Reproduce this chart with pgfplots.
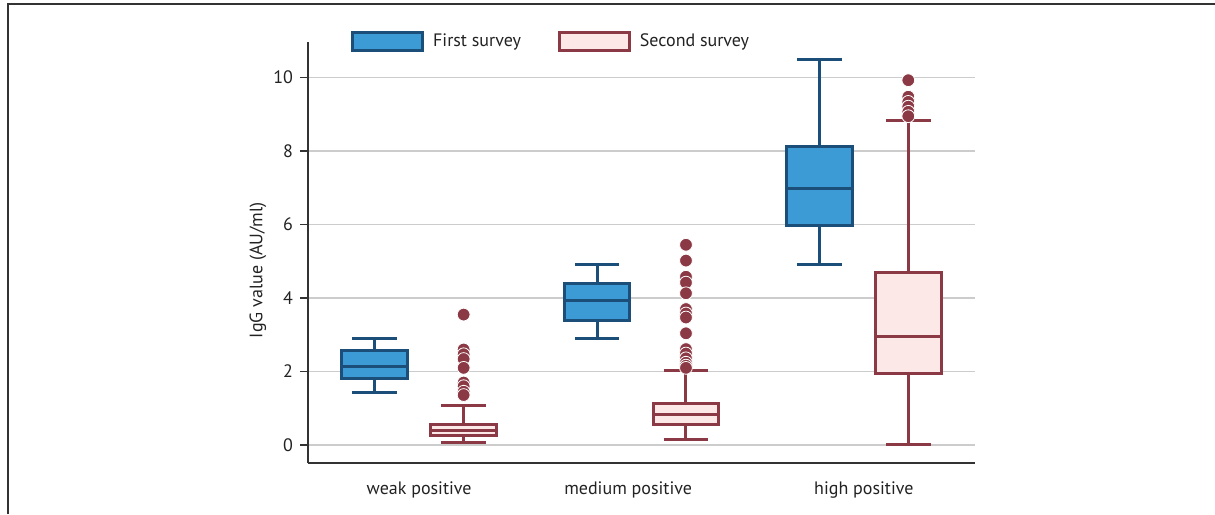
\documentclass[border=0pt]{standalone}
\usepackage{pgfplots}
\pgfplotsset{compat=1.18}
\usepgfplotslibrary{statistics}
\usepackage{fontspec}
\setmainfont{PT Sans}
\definecolor{bfill}{HTML}{3C9AD4}
\definecolor{bdraw}{HTML}{1B4F7A}
\definecolor{pfill}{HTML}{FDE8E8}
\definecolor{pdraw}{HTML}{8B3944}
\definecolor{gridc}{HTML}{CCCCCC}
\definecolor{axc}{HTML}{333333}
\definecolor{txt}{HTML}{222222}
\begin{document}
\begin{tikzpicture}
\useasboundingbox (-154pt,-25.5pt) rectangle (453.5pt,231.5pt);
\draw[axc, line width=0.7pt] (-150pt,-25.5pt) -- (-150pt,229.5pt) -- (453.5pt,229.5pt);
\begin{axis}[
  at={(0pt,0pt)}, anchor=south west,
  scale only axis, width=333.5pt, height=210.5pt,
  xmin=0.5, xmax=3.5, ymin=-0.49, ymax=10.97,
  axis x line*=bottom, axis y line*=left,
  axis line style={axc, line width=0.75pt, -},
  ytick={0,2,4,6,8,10},
  xtick={1,1.94,3},
  xticklabels={weak positive, medium positive, high positive},
  x tick style={draw=none},
  y tick style={axc, line width=0.75pt},
  tick align=outside, major tick length=4pt,
  ymajorgrids, grid style={gridc, line width=0.75pt},
  /pgf/number format/assume math mode=true,
  tick label style={font=\fontsize{9}{10}\selectfont, text=txt},
  xticklabel style={yshift=-2pt},
  ylabel={IgG value (AU/ml)},
  ylabel style={at={(axis description cs:-0.075,0.458)}, anchor=center, font=\fontsize{9}{10}\selectfont, text=txt},
  legend style={at={(axis description cs:0.366,1.001)}, anchor=center, draw=none, fill=none,
    legend columns=2, font=\fontsize{9}{10}\selectfont, text=txt,
    /tikz/every odd column/.append style={column sep=2.5pt},
    /tikz/every even column/.append style={column sep=16.5pt}},
  legend cell align=left,
  boxplot/draw direction=y,
  boxplot/box extend=0.296,
  boxplot/whisker extend=0.2,
]
\addlegendimage{legend image code/.code={\draw[bdraw, fill=bfill, line width=1.5pt] (0pt,-4.5pt) rectangle (35pt,4.5pt);}}
\addlegendentry{First survey}
\addlegendimage{legend image code/.code={\draw[pdraw, fill=pfill, line width=1.5pt] (0pt,-4.5pt) rectangle (35pt,4.5pt);}}
\addlegendentry{Second survey}

% weak positive
\addplot[forget plot, draw=bdraw, fill=bfill, line width=1.5pt,
  boxplot prepared={draw position=0.8, median=2.13, upper quartile=2.56, lower quartile=1.81, upper whisker=2.90, lower whisker=1.43}]
  coordinates {};
\addplot[forget plot, draw=pdraw, fill=pfill, line width=1.5pt, mark=*, mark size=3.2pt,
  mark options={fill=pdraw, draw=white, line width=0.4pt},
  boxplot prepared={draw position=1.2, median=0.40, upper quartile=0.57, lower quartile=0.25, upper whisker=1.08, lower whisker=0.06}]
  table[row sep=\\, y index=0] {v\\ 3.55\\ 2.60\\ 2.47\\ 2.34\\ 2.10\\ 1.70\\ 1.60\\ 1.45\\ 1.36\\};

% medium positive
\addplot[forget plot, draw=bdraw, fill=bfill, line width=1.5pt,
  boxplot prepared={draw position=1.8, median=3.92, upper quartile=4.39, lower quartile=3.40, upper whisker=4.90, lower whisker=2.90}]
  coordinates {};
\addplot[forget plot, draw=pdraw, fill=pfill, line width=1.5pt, mark=*, mark size=3.2pt,
  mark options={fill=pdraw, draw=white, line width=0.4pt},
  boxplot prepared={draw position=2.2, median=0.84, upper quartile=1.13, lower quartile=0.55, upper whisker=2.04, lower whisker=0.16}]
  table[row sep=\\, y index=0] {v\\ 5.45\\ 5.02\\ 4.58\\ 4.42\\ 4.13\\ 3.70\\ 3.58\\ 3.47\\ 3.04\\ 2.61\\ 2.49\\ 2.36\\ 2.24\\ 2.16\\ 2.10\\};

% high positive
\addplot[forget plot, draw=bdraw, fill=bfill, line width=1.5pt,
  boxplot prepared={draw position=2.8, median=6.98, upper quartile=8.12, lower quartile=5.97, upper whisker=10.48, lower whisker=4.90}]
  coordinates {};
\addplot[forget plot, draw=pdraw, fill=pfill, line width=1.5pt, mark=*, mark size=3.2pt,
  mark options={fill=pdraw, draw=white, line width=0.4pt},
  boxplot prepared={draw position=3.2, median=2.95, upper quartile=4.69, lower quartile=1.95, upper whisker=8.84, lower whisker=0.02}]
  table[row sep=\\, y index=0] {v\\ 9.93\\ 9.48\\ 9.34\\ 9.21\\ 9.07\\ 8.95\\};
\end{axis}
\end{tikzpicture}
\end{document}
